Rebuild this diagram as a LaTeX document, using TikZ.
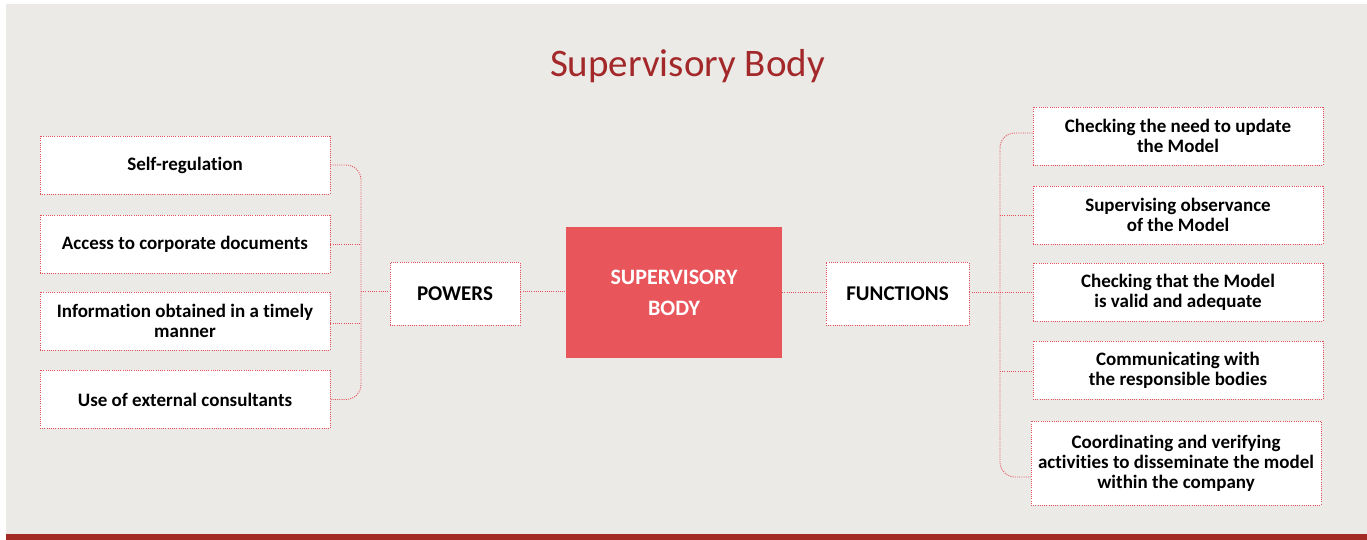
\documentclass[tikz,border=0pt]{standalone}
\usepackage{fontspec}
\setmainfont[Ligatures=NoCommon]{Carlito}
\usetikzlibrary{calc}
\definecolor{panel}{HTML}{ECEAE6}
\definecolor{barred}{HTML}{A22B25}
\definecolor{titlered}{HTML}{A3282A}
\definecolor{boxred}{HTML}{E8565C}
\definecolor{dotred}{HTML}{E4505A}
\begin{document}
\begin{tikzpicture}[x=1pt,y=1pt,
  dotline/.style={draw=dotred, line width=0.9pt, dash pattern=on 1pt off 1.2pt},
  leaf/.style={dotline, fill=white, inner sep=0pt, minimum width=290pt, minimum height=58pt,
    align=center, font=\bfseries\fontsize{19}{20}\selectfont},
  hub/.style={dotline, fill=white, inner sep=0pt, minimum height=63pt,
    align=center, font=\bfseries\fontsize{21}{24}\selectfont},
  core/.style={fill=boxred, text=white, inner sep=0pt, minimum width=216pt, minimum height=131pt,
    align=center, font=\bfseries\fontsize{22}{31}\selectfont},
  conn/.style={dotline, rounded corners=15pt}]
\useasboundingbox (0,0) rectangle (1367,540);
\fill[panel] (6,0) rectangle (1367,536);
\fill[barred] (6,0) rectangle (1367,6);

\node[anchor=base, text=titlered, font=\fontsize{39}{44}\selectfont] (title) at (687.5,463) {Supervisory Body};

% left leaves
\node[leaf] (s1) at (185,375) {Self-regulation};
\node[leaf] (s2) at (185,296) {Access to corporate documents};
\node[leaf] (s3) at (185,219) {Information obtained in a timely\\manner};
\node[leaf] (s4) at (185,140.5) {Use of external consultants};

\node[hub, minimum width=130pt] (powers) at (455,246) {POWERS};
\node[core] (core) at (674,247.5) {SUPERVISORY\\BODY};
\node[hub, minimum width=143pt] (functions) at (897.5,246) {FUNCTIONS};

% right leaves
\node[leaf] (f1) at (1178,404) {Checking the need to update\\the Model};
\node[leaf] (f2) at (1178,325) {Supervising observance\\of the Model};
\node[leaf] (f3) at (1178,248) {Checking that the Model\\is valid and adequate};
\node[leaf] (f4) at (1178,169.5) {Communicating with\\the responsible bodies};
\node[leaf, minimum height=84pt] (f5) at (1176,77) {Coordinating and verifying\\activities to disseminate the model\\within the company};

\coordinate (lb) at (361,249);
\coordinate (rb) at (1000,248);

% left bracket
\draw[conn] (s1.east) -| (lb) |- (s4.east);
\draw[dotline] (s2.east) -- (s2.east -| lb);
\draw[dotline] ($(s3.east)+(0,-2)$) -- ($(s3.east -| lb)+(0,-2)$);
\draw[dotline] (lb) -- (lb -| powers.west);
\draw[dotline] (powers.east |- lb) -- (core.west |- lb);
\draw[dotline] (core.east |- rb) -- (functions.west |- rb);

% right bracket
\coordinate (f1c) at ($(f1.west)+(0,3)$);
\coordinate (f5c) at ($(f5.west)+(0,-14)$);
\draw[conn] (f1c) -| (rb) |- (f5c);
\draw[dotline] (functions.east |- rb) -- (rb) -- (f3.west |- rb);
\draw[dotline] (f2.west -| rb) -- (f2.west);
\draw[dotline] ($(f4.west -| rb)+(0,-1)$) -- ($(f4.west)+(0,-1)$);
\end{tikzpicture}
\end{document}
